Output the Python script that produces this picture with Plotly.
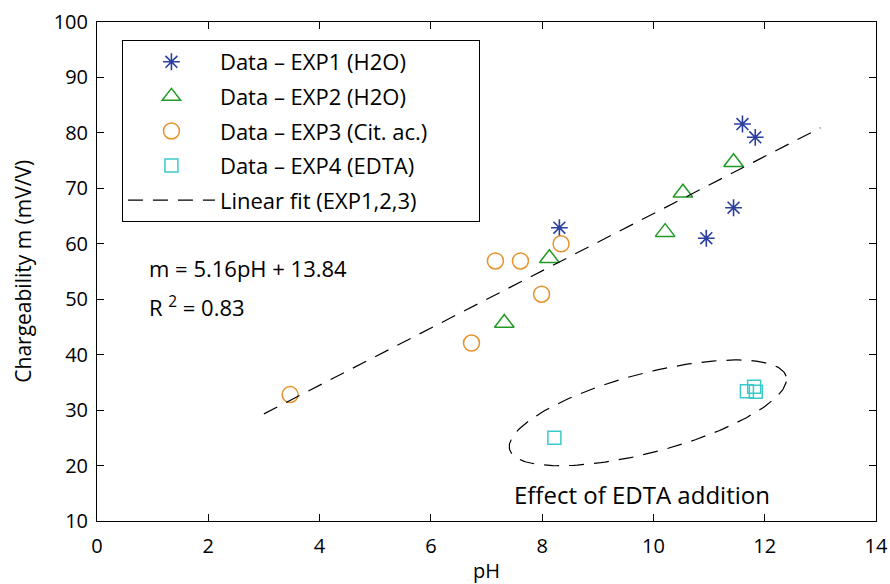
import numpy as np
import plotly.graph_objects as go

# Data
exp1_ph = [8.31, 11.60, 11.83, 11.44, 10.95]
exp1_m = [62.9, 81.6, 79.2, 66.5, 61.0]
exp2_ph = [11.44, 10.53, 10.21, 8.13, 7.32]
exp2_m = [74.7, 69.2, 62.1, 57.4, 45.7]
exp3_ph = [7.16, 7.61, 8.34, 7.99, 6.73, 3.47]
exp3_m = [56.9, 56.9, 60.0, 50.9, 42.1, 32.8]
exp4_ph = [8.22, 11.68, 11.81, 11.84]
exp4_m = [25.0, 33.4, 34.2, 33.3]
fit_slope = 5.16
fit_intercept = 13.84
fit_range = [3, 13]

# ellipse annotation parameters (center in data units, axes in pixels-equivalent)
ell_center = (9.9, 29.5)
ell_a_px, ell_b_px, ell_angle_deg = 143, 39.6, 14.8
px_per_x, px_per_y = 55.65, 5.544

x_ticks = [0, 2, 4, 6, 8, 10, 12, 14]
y_ticks = [10, 20, 30, 40, 50, 60, 70, 80, 90, 100]

FONT = "Open Sans"
DASH = "15px,10px"
PAD = "&nbsp;" * 8
fig = go.Figure()

fig.add_trace(go.Scatter(x=exp1_ph, y=exp1_m, mode="markers", name="Data – EXP1 (H2O)",
                         legendgroup="1",
                         marker=dict(symbol="asterisk-open", size=14, color="#2b3f9e",
                                     line=dict(color="#2b3f9e", width=1.6))))
fig.add_trace(go.Scatter(x=exp2_ph, y=exp2_m, mode="markers", name="Data – EXP2 (H2O)",
                         legendgroup="2",
                         marker=dict(symbol="triangle-up-open", size=17, color="#1f9a23",
                                     line=dict(color="#1f9a23", width=1.5))))
fig.add_trace(go.Scatter(x=exp3_ph, y=exp3_m, mode="markers", name="Data – EXP3 (Cit. ac.)" + PAD,
                         legendgroup="3",
                         marker=dict(symbol="circle-open", size=16, color="#e8922c",
                                     line=dict(color="#e8922c", width=1.5))))
fig.add_trace(go.Scatter(x=exp4_ph, y=exp4_m, mode="markers", name="Data – EXP4 (EDTA)",
                         legendgroup="4",
                         marker=dict(symbol="square-open", size=13, color="#3cc9c9",
                                     line=dict(color="#3cc9c9", width=1.5))))
fit_x = np.array(fit_range, dtype=float)
fit_y = fit_slope * fit_x + fit_intercept
fig.add_trace(go.Scatter(x=fit_x, y=fit_y, mode="lines", name="Linear fit (EXP1,2,3)",
                         legendgroup="5",
                         line=dict(color="black", width=1.2, dash=DASH)))

# ellipse
t = np.linspace(0, 2 * np.pi, 200)
th = np.deg2rad(ell_angle_deg)
ex_px = ell_a_px * np.cos(t) * np.cos(th) - ell_b_px * np.sin(t) * np.sin(th)
ey_px = ell_a_px * np.cos(t) * np.sin(th) + ell_b_px * np.sin(t) * np.cos(th)
fig.add_trace(go.Scatter(x=ell_center[0] + ex_px / px_per_x, y=ell_center[1] + ey_px / px_per_y,
                         mode="lines", showlegend=False, hoverinfo="skip",
                         line=dict(color="black", width=1.2, dash=DASH)))

fig.add_annotation(x=0.9, y=55.6, xref="x", yref="y", text="m = 5.16pH + 13.84", showarrow=False,
                   xanchor="left", font=dict(size=22, family=FONT, color="black"))
fig.add_annotation(x=0.9, y=48.6, xref="x", yref="y", text="R <sup>2</sup> = 0.83", showarrow=False,
                   xanchor="left", font=dict(size=22, family=FONT, color="black"))
fig.add_annotation(x=7.45, y=14.8, xref="x", yref="y", text="Effect of EDTA addition", showarrow=False,
                   xanchor="left", font=dict(size=24, family=FONT, color="black"))

# axis titles
fig.add_annotation(x=0.5, y=-0.1, xref="paper", yref="paper", text="pH", showarrow=False,
                   xanchor="center", yanchor="middle", font=dict(size=20, family=FONT, color="black"))
fig.add_annotation(x=-0.096, y=0.5, xref="paper", yref="paper", text="Chargeability m (mV/V)",
                   showarrow=False, textangle=-90, xanchor="center", yanchor="middle",
                   font=dict(size=21, family=FONT, color="black"))

axis_common = dict(showgrid=False, zeroline=False, showline=True, linecolor="black", linewidth=1,
                   mirror="ticks", ticks="inside", ticklen=7, tickcolor="black", automargin=False,
                   tickfont=dict(size=20, family=FONT, color="black"))
fig.update_xaxes(range=[0, 14], tickvals=x_ticks, ticklabelstandoff=7, **axis_common)
fig.update_yaxes(range=[10, 100], tickvals=y_ticks, ticklabelstandoff=4, **axis_common)

fig.update_layout(
    width=890, height=584,
    margin=dict(l=97, r=14, t=22, b=63),
    plot_bgcolor="white", paper_bgcolor="white",
    font=dict(family=FONT, color="black"),
    legend=dict(x=0.032, y=0.964, xanchor="left", yanchor="top",
                bgcolor="white", bordercolor="black", borderwidth=1,
                font=dict(size=22, family=FONT), tracegroupgap=3, itemwidth=87),
)

fig.write_html("out.html", post_script="document.body.style.margin='0';",
               config={"displayModeBar": False})
